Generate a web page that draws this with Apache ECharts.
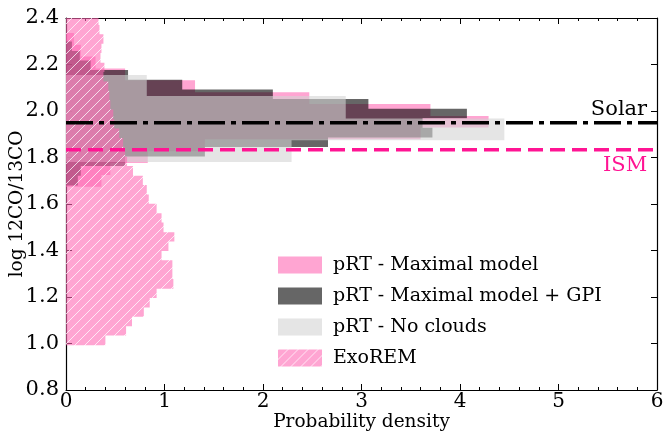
<!DOCTYPE html>
<html>
<head>
<meta charset="utf-8">
<script src="https://cdn.jsdelivr.net/npm/echarts@6/dist/echarts.min.js"></script>
<style>
html,body{margin:0;padding:0;background:#fff;}
#chart{width:665px;height:432px;}
</style>
</head>
<body>
<div id="chart"></div>
<script>
// ---- data ----
const xTicks = [0, 1, 2, 3, 4, 5, 6];
const yTicks = [0.8, 1.0, 1.2, 1.4, 1.6, 1.8, 2.0, 2.2, 2.4];

const seriesNames = ['pRT - Maximal model', 'pRT - Maximal model + GPI', 'pRT - No clouds', 'ExoREM'];

// pRT - Maximal model
const maxEdges = [1.674, 1.725, 1.776, 1.827, 1.878, 1.929, 1.979, 2.030, 2.081, 2.132, 2.183, 2.234, 2.285, 2.336];
const maxDens  = [0.36, 0.45, 0.83, 1.41, 3.60, 4.29, 3.70, 2.47, 1.31, 0.60, 0.30, 0.15, 0.08];

// pRT - Maximal model + GPI
const gpiEdges = [1.680, 1.721, 1.763, 1.804, 1.845, 1.886, 1.928, 1.969, 2.010, 2.052, 2.093, 2.134, 2.176, 2.217, 2.258, 2.299];
const gpiDens  = [0.12, 0.15, 0.60, 1.41, 2.66, 3.72, 3.62, 4.07, 3.07, 2.10, 1.18, 0.63, 0.25, 0.14, 0.06];

// pRT - No clouds
const ncEdges = [1.781, 1.874, 1.968, 2.064, 2.155];
const ncDens  = [2.29, 4.45, 2.84, 0.82];

// ExoREM
const exoEdges = [0.993, 1.034, 1.074, 1.115, 1.155, 1.196, 1.236, 1.277, 1.317, 1.358, 1.398, 1.439,
                  1.479, 1.520, 1.560, 1.601, 1.641, 1.682, 1.722, 1.763, 1.803, 1.844, 1.884, 1.925,
                  1.965, 2.006, 2.046, 2.087, 2.127, 2.168, 2.208, 2.249, 2.289, 2.330, 2.370, 2.411];
const exoDens  = [0.40, 0.61, 0.67, 0.79, 0.85, 0.92, 1.09, 1.08, 1.08, 0.97, 1.04, 1.10,
                  0.99, 0.97, 0.92, 0.84, 0.82, 0.78, 0.68, 0.62, 0.60, 0.58, 0.54, 0.49,
                  0.48, 0.45, 0.44, 0.43, 0.38, 0.39, 0.35, 0.36, 0.38, 0.34, 0.33];

// reference lines
const solarValue = 1.95;
const ismValue = 1.833;
const refLabels = [['Solar', 5.9, 2.008], ['ISM', 5.9, 1.767]];

// ---- styling ----
const FONT = "'DejaVu Serif', serif";
const xMin = 0, xMax = 6, yMin = 0.8, yMax = 2.4;

const pinkFill = 'rgba(255,105,180,0.6)';
const darkFill = 'rgba(0,0,0,0.6)';
const lightFill = 'rgba(211,211,211,0.6)';

// hatch pattern for ExoREM
const hatch = document.createElement('canvas');
hatch.width = 10; hatch.height = 10;
(function(){
  const c = hatch.getContext('2d');
  c.fillStyle = pinkFill;
  c.fillRect(0, 0, 10, 10);
  c.strokeStyle = 'rgba(255,255,255,0.75)';
  c.lineWidth = 1;
  c.beginPath();
  c.moveTo(-1, 11); c.lineTo(11, -1);
  c.moveTo(-1, 1); c.lineTo(1, -1);
  c.moveTo(9, 11); c.lineTo(11, 9);
  c.stroke();
})();
const hatchPattern = { image: hatch, repeat: 'repeat' };

function clampY(v) { return Math.min(Math.max(v, yMin), yMax); }

function histRender(edges, dens, fill) {
  return function (params, api) {
    const pts = [];
    const n = dens.length;
    pts.push(api.coord([0, clampY(edges[0])]));
    for (let i = 0; i < n; i++) {
      pts.push(api.coord([dens[i], clampY(edges[i])]));
      pts.push(api.coord([dens[i], clampY(edges[i + 1])]));
    }
    pts.push(api.coord([0, clampY(edges[n])]));
    return { type: 'polygon', shape: { points: pts }, style: { fill: fill } };
  };
}

function histSeries(name, edges, dens, fill, z) {
  return {
    name: name, type: 'custom', z: z,
    renderItem: histRender(edges, dens, fill),
    itemStyle: { color: fill },
    data: [[0, edges[0]]],
    encode: { x: 0, y: 1 },
    silent: true
  };
}

const chart = echarts.init(document.getElementById('chart'), null, { renderer: 'canvas' });

const axisCommon = {
  axisLine: { show: true, onZero: false, lineStyle: { color: '#000', width: 1.2 } },
  splitLine: { show: false }
};

const option = {
  backgroundColor: '#fff',
  animation: false,
  grid: { left: 66, right: 8, top: 18, bottom: 42, containLabel: false, outerBoundsMode: 'none' },
  legend: {
    data: seriesNames,
    orient: 'vertical',
    left: 278, top: 255.5, padding: 0,
    itemWidth: 44, itemHeight: 17, itemGap: 12,
    icon: 'rect',
    textStyle: { fontFamily: FONT, fontSize: 19, color: '#000', padding: [0, 0, 0, 6] },
    selectedMode: false
  },
  xAxis: [
    Object.assign({}, axisCommon, {
      type: 'value', min: xMin, max: xMax, interval: 1, position: 'bottom',
      name: 'Probability density', nameLocation: 'middle', nameGap: 23, nameMoveOverlap: false,
      nameTextStyle: { fontFamily: FONT, fontSize: 18.5, color: '#000' },
      axisTick: { show: true, inside: true, length: 6, lineStyle: { color: '#000' } },
      minorTick: { show: true, splitNumber: 5, length: 3, lineStyle: { color: '#000' } },
      axisLabel: { fontFamily: FONT, fontSize: 20, color: '#000', margin: 2,
        formatter: v => (xTicks.indexOf(v) >= 0 ? String(v) : '') }
    }),
    Object.assign({}, axisCommon, {
      type: 'value', min: xMin, max: xMax, interval: 1, position: 'top',
      axisTick: { show: true, inside: true, length: 6, lineStyle: { color: '#000' } },
      minorTick: { show: true, splitNumber: 5, length: 3, lineStyle: { color: '#000' } },
      axisLabel: { show: false }
    })
  ],
  yAxis: [
    Object.assign({}, axisCommon, {
      type: 'value', min: yMin, max: yMax, interval: 0.2, position: 'left',
      name: 'log 12CO/13CO', nameLocation: 'middle', nameGap: 39, nameRotate: 90, nameMoveOverlap: false,
      nameTextStyle: { fontFamily: FONT, fontSize: 18.5, color: '#000' },
      axisTick: { show: true, inside: true, length: 6, lineStyle: { color: '#000' } },
      axisLabel: { fontFamily: FONT, fontSize: 21, color: '#000', margin: 7,
        formatter: v => {
          const t = yTicks.find(a => Math.abs(a - v) < 1e-6);
          return t === undefined ? '' : t.toFixed(1);
        } }
    }),
    Object.assign({}, axisCommon, {
      type: 'value', min: yMin, max: yMax, interval: 0.2, position: 'right',
      axisTick: { show: true, inside: true, length: 6, lineStyle: { color: '#000' } },
      axisLabel: { show: false }
    })
  ],
  series: [
    histSeries(seriesNames[0], maxEdges, maxDens, pinkFill, 2),
    histSeries(seriesNames[1], gpiEdges, gpiDens, darkFill, 3),
    histSeries(seriesNames[2], ncEdges, ncDens, lightFill, 4),
    histSeries(seriesNames[3], exoEdges, exoDens, hatchPattern, 5),
    {
      name: 'Solar', type: 'line', z: 8, symbol: 'none', silent: true,
      data: [[xMin, solarValue], [xMax, solarValue]],
      lineStyle: { color: '#000', width: 3.5, type: [27, 6, 5, 6], cap: 'butt' }
    },
    {
      name: 'ISM', type: 'line', z: 8, symbol: 'none', silent: true,
      data: [[xMin, ismValue], [xMax, ismValue]],
      lineStyle: { color: '#ff1493', width: 3.5, type: [15, 7], cap: 'butt' }
    },
    {
      name: 'labels', type: 'custom', z: 9, silent: true,
      data: refLabels,
      encode: { x: 1, y: 2 },
      renderItem: function (params, api) {
        const p = api.coord([api.value(1), api.value(2)]);
        const t = refLabels[params.dataIndex][0];
        return {
          type: 'text', x: p[0], y: p[1],
          style: { text: t, align: 'right', verticalAlign: 'middle',
            fontFamily: FONT, fontSize: 21, fill: t === 'ISM' ? '#ff1493' : '#000' }
        };
      }
    }
  ]
};
chart.setOption(option);
</script>
</body>
</html>
